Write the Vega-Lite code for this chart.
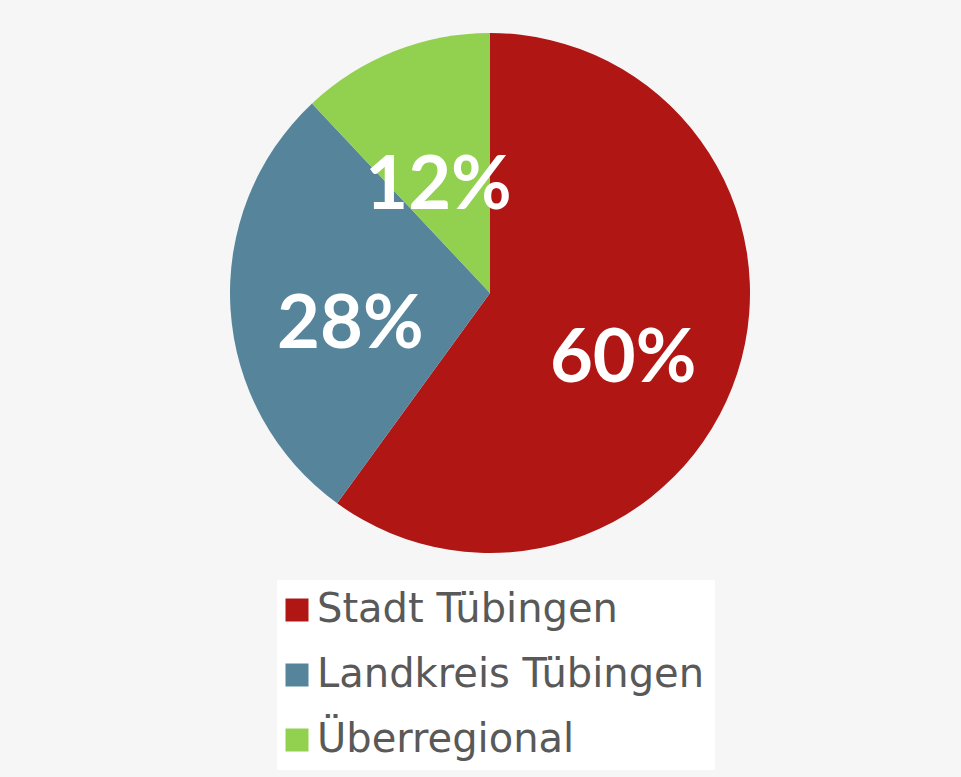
{
  "$schema": "https://vega.github.io/schema/vega-lite/v6.json",
  "width": 980,
  "height": 586,
  "autosize": {"type": "none"},
  "padding": {"left": 0, "top": 0, "right": 0, "bottom": 191},
  "background": "#f6f6f6",
  "config": {"view": {"stroke": null}},
  "data": {"values": [
    {"region": "Stadt Tübingen", "anteil": 60, "label": "60%"},
    {"region": "Landkreis Tübingen", "anteil": 28, "label": "28%"},
    {"region": "Überregional", "anteil": 12, "label": "12%"}
  ]},
  "encoding": {
    "theta": {"field": "anteil", "type": "quantitative", "stack": true},
    "color": {
      "field": "region", "type": "nominal",
      "sort": ["Stadt Tübingen", "Landkreis Tübingen", "Überregional"],
      "scale": {"domain": ["Stadt Tübingen", "Landkreis Tübingen", "Überregional"], "range": ["#AF1614", "#55849B", "#92D050"]},
      "legend": {
        "title": null, "orient": "none", "legendX": 277, "legendY": 580,
        "fillColor": "#ffffff", "padding": 10, "symbolType": "square", "symbolSize": 529,
        "symbolOffset": -10,
        "symbolStrokeWidth": 0, "labelFont": "DejaVu Sans", "labelFontSize": 40, "labelColor": "#595959",
        "labelOffset": 0, "rowPadding": 25, "labelLimit": 600
      }
    },
    "order": {"field": "anteil", "sort": "descending"}
  },
  "layer": [
    {"mark": {"type": "arc", "outerRadius": 260, "stroke": null}},
    {"mark": {"type": "text", "radius": 140, "dy": 24, "font": "Lato", "fontWeight": "bold", "fontSize": 74, "fill": "#ffffff"},
     "encoding": {"text": {"field": "label"}, "color": {"value": "#ffffff"}}}
  ]
}
